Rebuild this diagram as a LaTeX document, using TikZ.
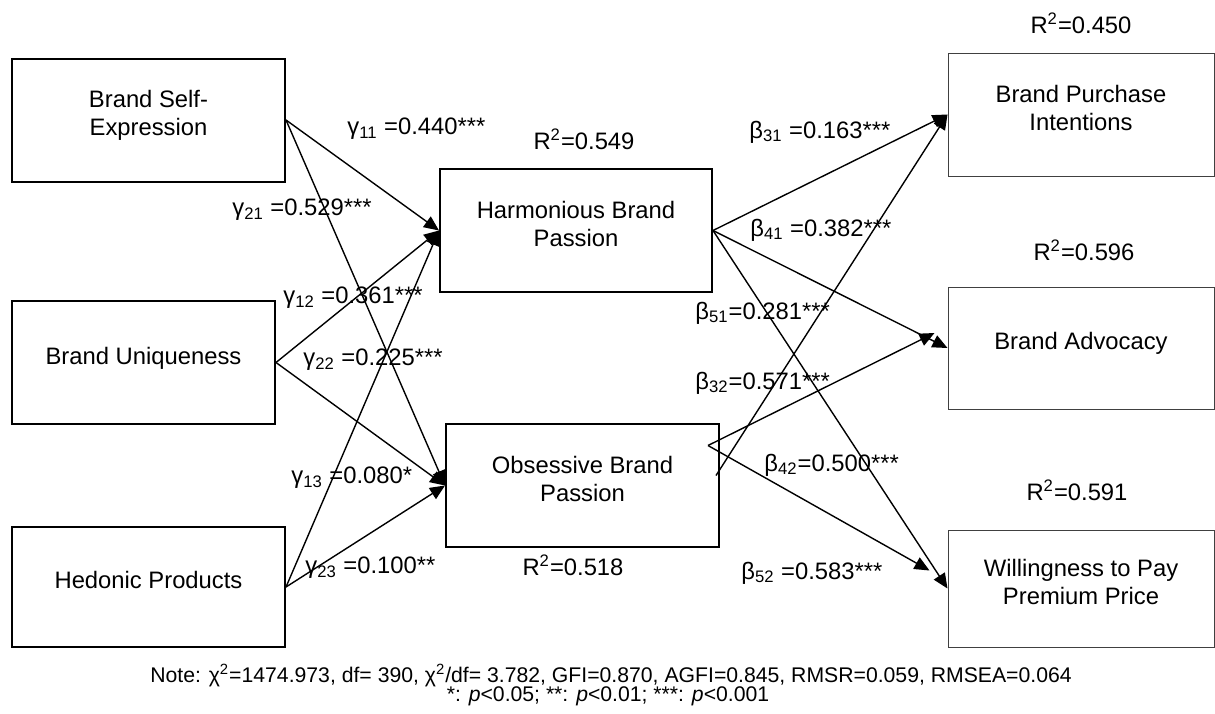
\documentclass[tikz,border=0pt]{standalone}
\usepackage{fontspec}
\setmainfont{Liberation Sans}
\usepackage{tikz}
\usetikzlibrary{
  positioning,
  arrows.meta
}
\tikzstyle{effect}     = [line width=0.7pt,-{Triangle[length=7.5pt,width=6.5pt]}]

\begin{document}
\begin{tikzpicture}[
x=0.5pt, y=-0.5pt,
font=\fontsize{11.9}{14}\selectfont,
exonode/.style={rectangle, draw, line width=1pt, align=center, minimum width=136.5pt, minimum height=61.5pt, text depth=7pt},
endonode/.style={rectangle, draw=black!75, line width=0.5pt, align=center, minimum width=133pt, minimum height=61.5pt, text depth=7pt},
coefnode/.style={anchor=west, inner sep=0pt},
rsqnode/.style={inner sep=0pt},
fitnode/.style={anchor=base, inner sep=0pt, font=\fontsize{10.6}{12}\selectfont},
]
\useasboundingbox (0,0) rectangle (1215,713);

%Nodes
\node[exonode]                          (bse) at (148.5,120) {Brand Self-\\Expression};
\node[exonode, minimum width=131.5pt]   (bu)  at (143.5,362.5) {Brand Uniqueness};
\node[exonode, minimum height=60pt]     (hp)  at (148.5,587) {Hedonic Products};
\node[exonode, minimum width=136pt]     (hbp) at (576,230.5) {Harmonious Brand\\Passion};
\node[exonode]                          (obp) at (582.5,485.5) {Obsessive Brand\\Passion};
\node[endonode]                         (bpi) at (1081,114.5) {Brand Purchase\\Intentions};
\node[endonode, minimum height=61pt]    (ba)  at (1081,348) {Brand Advocacy};
\node[endonode, minimum height=58.5pt]  (wpp) at (1081,588.5) {Willingness to Pay\\Premium Price};

%R squares
\node[rsqnode] (r549) at (584,139)  {R\textsuperscript{2}=0.549};
\node[rsqnode] (r518) at (573,565)  {R\textsuperscript{2}=0.518};
\node[rsqnode] (r450) at (1081,23)  {R\textsuperscript{2}=0.450};
\node[rsqnode] (r596) at (1084,250) {R\textsuperscript{2}=0.596};
\node[rsqnode] (r591) at (1077,490) {R\textsuperscript{2}=0.591};

%Coefficients
\node[coefnode] (g11) at (347,129) {γ\textsubscript{11} =0.440***};
\node[coefnode] (g21) at (232,210) {γ\textsubscript{21} =0.529***};
\node[coefnode] (g12) at (283,298) {γ\textsubscript{12} =0.361***};
\node[coefnode] (g22) at (303,360) {γ\textsubscript{22} =0.225***};
\node[coefnode] (g13) at (291,478) {γ\textsubscript{13} =0.080*};
\node[coefnode] (g23) at (305,568) {γ\textsubscript{23} =0.100**};
\node[coefnode] (b31) at (749,132) {β\textsubscript{31} =0.163***};
\node[coefnode] (b41) at (750,230) {β\textsubscript{41} =0.382***};
\node[coefnode] (b51) at (695,313) {β\textsubscript{51}=0.281***};
\node[coefnode] (b32) at (695,383) {β\textsubscript{32}=0.571***};
\node[coefnode] (b42) at (764,465) {β\textsubscript{42}=0.500***};
\node[coefnode] (b52) at (741,573) {β\textsubscript{52} =0.583***};

%Note
\node[fitnode] (note1) at (611,682) {Note: χ\textsuperscript{2}=1474.973, df= 390, χ\textsuperscript{2}/df= 3.782, GFI=0.870, AGFI=0.845, RMSR=0.059, RMSEA=0.064};
\node[fitnode] (note2) at (608,701) {*: \textit{p}<0.05; **: \textit{p}<0.01; ***: \textit{p}<0.001};

%Lines
\coordinate (obpout) at ([shift={(-12,-40)}]obp.east);
\coordinate (obpup)  at ([shift={(-4,-10)}]obp.east);
\coordinate (bain)   at ([shift={(-13,-15)}]ba.west);
\coordinate (wppin)  at ([shift={(-18,-18)}]wpp.west);
\draw[effect] (bse.east) -- (hbp.west);
\draw[effect] (bse.east) -- (obp.west);
\draw[effect] (bu.east) -- (hbp.west);
\draw[effect] (bu.east) -- (obp.west);
\draw[effect] (hp.east) -- (hbp.west);
\draw[effect] (hp.east) -- (obp.west);
\draw[effect] (hbp.east) -- (bpi.west);
\draw[effect] (hbp.east) -- (ba.west);
\draw[effect] (hbp.east) -- (wpp.west);
\draw[effect] (obpup) -- (bpi.west);
\draw[effect] (obpout) -- (bain);
\draw[effect] (obpout) -- (wppin);
\end{tikzpicture}
\end{document}
